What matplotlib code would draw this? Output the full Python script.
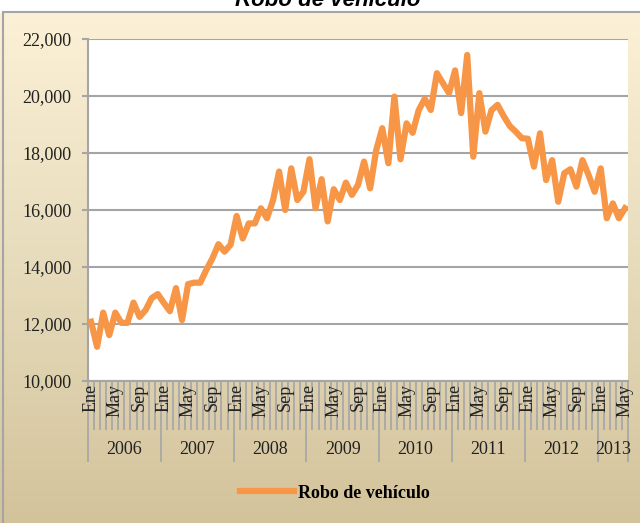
import numpy as np
import matplotlib
matplotlib.use("Agg")
import matplotlib.pyplot as plt
from matplotlib.lines import Line2D
from matplotlib.colors import LinearSegmentedColormap
from matplotlib.ticker import FuncFormatter

ORANGE = "#f79646"
GRID = "#a5a5a8"

years = ["2006", "2007", "2008", "2009", "2010", "2011", "2012", "2013"]
month_labels = ["Ene", "May", "Sep"]   # shown every 4 months

# monthly vehicle thefts, Ene 2006 .. May 2013
robo = [
    12080, 11200, 12400, 11610, 12400, 12040, 12040, 12750, 12250, 12490, 12910, 13050,  # 2006
    12740, 12450, 13260, 12140, 13400, 13450, 13450, 13900, 14300, 14800, 14540, 14780,  # 2007
    15790, 15000, 15530, 15530, 16060, 15710, 16350, 17350, 16000, 17460, 16350, 16640,  # 2008
    17780, 16060, 17080, 15600, 16730, 16350, 16960, 16530, 16880, 17700, 16760, 18100,  # 2009
    18870, 17640, 19980, 17780, 19040, 18710, 19500, 19900, 19510, 20800, 20450, 20100,  # 2010
    20900, 19400, 21440, 17870, 20100, 18750, 19500, 19690, 19300, 18950, 18750, 18520,  # 2011
    18500, 17520, 18690, 17050, 17750, 16290, 17290, 17430, 16820, 17750, 17230, 16640,  # 2012
    17460, 15710, 16230, 15710, 16060,                                                  # 2013
]

plt.rcParams["font.family"] = ["Liberation Serif", "DejaVu Serif"]

W, H = 640, 523
fig = plt.figure(figsize=(W / 100, H / 100), dpi=100, facecolor="white")

# beige gradient chart area
bg = fig.add_axes([0, 0, 1, 1 - 13 / H], zorder=-10)
cmap = LinearSegmentedColormap.from_list("bg", ["#fcf1d6", "#e6dbbb", "#d3c39b"])
bg.imshow(np.linspace(0, 1, 256)[:, None], aspect="auto", cmap=cmap,
          extent=[0, 1, 0, 1], origin="upper")
bg.set_axis_off()
fig.add_artist(Line2D([3 / W, 3 / W], [0, 1 - 12 / H], color=GRID, lw=1.5))
fig.add_artist(Line2D([3 / W, 1], [1 - 12 / H, 1 - 12 / H], color=GRID, lw=1.5))

# title is partly cut off at the top edge, as in the source
fig.text(328 / W, 1 - 6 / H, "Robo de vehículo", ha="center", va="baseline",
         fontsize=16, fontweight="bold", fontstyle="italic", family="Liberation Sans")

ax = fig.add_axes([88 / W, 1 - 381 / H, 540 / W, 342 / H])
ax.set_facecolor("white")
n = len(robo)
x = np.arange(n)
ax.plot(x, robo, color=ORANGE, lw=4.5, solid_joinstyle="round", zorder=3)

ax.set_xlim(-0.5, n - 0.5)
ax.set_ylim(10000, 22000)
ax.set_yticks(range(10000, 22001, 2000))
ax.yaxis.set_major_formatter(FuncFormatter(lambda v, p: f"{v:,.0f}"))
ax.grid(axis="y", color=GRID, lw=1.5)
ax.set_axisbelow(True)
for s in ["top", "right"]:
    ax.spines[s].set_visible(False)
for s in ["left", "bottom"]:
    ax.spines[s].set_color(GRID)
    ax.spines[s].set_linewidth(1.5)
ax.tick_params(axis="y", length=4, width=1.5, color=GRID, labelsize=13, pad=8,
               labelcolor="#222222")

# category boundaries: long ticks at years, short ticks every month
bounds = [12 * k - 0.5 for k in range(len(years))] + [n - 0.5]
ax.set_xticks(bounds)
ax.set_xticks(np.arange(-0.5, n, 1), minor=True)
ax.tick_params(axis="x", which="both", labelbottom=False, color=GRID, width=1.2)
ax.tick_params(axis="x", which="major", length=58)
ax.tick_params(axis="x", which="minor", length=35)

for i in range(n):
    if i % 4 == 0:
        ax.annotate(month_labels[(i % 12) // 4], xy=(i, 0),
                    xycoords=("data", "axes fraction"), xytext=(0, -3),
                    textcoords="offset pixels", rotation=90, ha="center",
                    va="top", fontsize=13, color="#222222")

for k, yr in enumerate(years):
    start, end = 12 * k, min(12 * k + 11, n - 1)
    ax.annotate(yr, xy=((start + end) / 2, 0), xycoords=("data", "axes fraction"),
                xytext=(0, -68), textcoords="offset pixels", ha="center",
                va="center", fontsize=13, color="#222222")

handle = Line2D([], [], color=ORANGE, lw=4.5)
fig.legend(handles=[handle], labels=["Robo de vehículo"], loc="center",
           bbox_to_anchor=(0.523, 1 - 493 / H), frameon=False,
           prop={"weight": "bold", "size": 13}, handlelength=3.0, handletextpad=0.2)

fig.savefig("out.png", dpi=100)
